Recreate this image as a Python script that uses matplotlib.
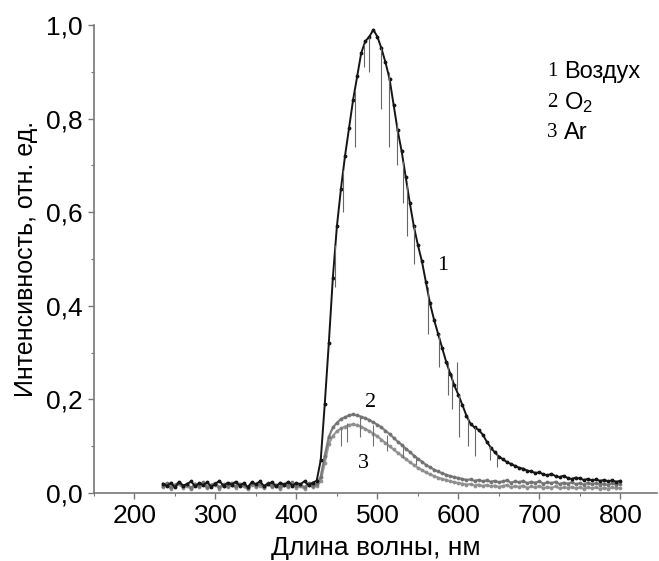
import numpy as np
import matplotlib
matplotlib.use("Agg")
from matplotlib import pyplot as plt
from matplotlib.ticker import MultipleLocator, FuncFormatter

plt.rcParams['font.family'] = ['Liberation Sans', 'DejaVu Sans']

# длины волн, шаг 5 нм
wl = np.arange(235, 801, 5)

# 1 - воздух
air = [0.020, 0.015, 0.022, 0.012, 0.024, 0.016, 0.019, 0.025, 0.014, 0.021,
       0.017, 0.023, 0.013, 0.020, 0.026, 0.015, 0.022, 0.018, 0.024, 0.016,
       0.021, 0.013, 0.023, 0.019, 0.025, 0.015, 0.020, 0.023, 0.014, 0.022,
       0.018, 0.024, 0.016, 0.021, 0.019, 0.025, 0.017, 0.022, 0.026,
       0.070, 0.190, 0.320, 0.460, 0.570, 0.650, 0.720, 0.780, 0.840, 0.890,
       0.940, 0.965, 0.975, 0.990, 0.975, 0.950, 0.920, 0.885, 0.830, 0.775,
       0.730, 0.675, 0.620, 0.570, 0.530, 0.495, 0.450, 0.405, 0.370, 0.340,
       0.310, 0.280, 0.255, 0.230, 0.210, 0.188, 0.165, 0.148, 0.140, 0.135,
       0.125, 0.110, 0.097, 0.087, 0.078, 0.072, 0.066, 0.062, 0.058, 0.054,
       0.052, 0.048, 0.046, 0.043, 0.044, 0.040, 0.038, 0.041, 0.036, 0.034,
       0.037, 0.032, 0.030, 0.033, 0.031, 0.028, 0.030, 0.027, 0.029, 0.026,
       0.028, 0.025, 0.027, 0.024, 0.026]

# 2 - O2
o2 = [0.016, 0.021, 0.012, 0.018, 0.022, 0.014, 0.019, 0.011, 0.020, 0.016,
      0.023, 0.013, 0.018, 0.021, 0.012, 0.019, 0.015, 0.022, 0.014, 0.020,
      0.017, 0.011, 0.021, 0.016, 0.019, 0.013, 0.022, 0.015, 0.018, 0.012,
      0.020, 0.016, 0.023, 0.014, 0.018, 0.012, 0.021, 0.016, 0.019,
      0.035, 0.080, 0.120, 0.140, 0.150, 0.158, 0.162, 0.166, 0.168, 0.166,
      0.163, 0.160, 0.156, 0.151, 0.146, 0.140, 0.133, 0.126, 0.118, 0.110,
      0.103, 0.095, 0.088, 0.080, 0.073, 0.067, 0.060, 0.055, 0.050, 0.046,
      0.042, 0.039, 0.036, 0.034, 0.032, 0.030, 0.028, 0.029, 0.026, 0.028,
      0.025, 0.027, 0.024, 0.026, 0.023, 0.025, 0.027, 0.022, 0.025, 0.023,
      0.026, 0.021, 0.024, 0.022, 0.025, 0.020, 0.023, 0.021, 0.024, 0.019,
      0.022, 0.020, 0.023, 0.019, 0.021, 0.018, 0.022, 0.019, 0.021, 0.018,
      0.020, 0.017, 0.021, 0.018, 0.020]

# 3 - Ar
ar = [0.012, 0.017, 0.009, 0.015, 0.019, 0.011, 0.016, 0.008, 0.017, 0.013,
      0.019, 0.010, 0.015, 0.018, 0.009, 0.016, 0.012, 0.018, 0.011, 0.017,
      0.014, 0.008, 0.018, 0.013, 0.016, 0.010, 0.019, 0.012, 0.015, 0.009,
      0.017, 0.013, 0.019, 0.011, 0.015, 0.009, 0.018, 0.013, 0.016,
      0.025, 0.065, 0.105, 0.122, 0.132, 0.138, 0.142, 0.145, 0.147, 0.145,
      0.142, 0.137, 0.132, 0.127, 0.121, 0.114, 0.107, 0.100, 0.093, 0.086,
      0.080, 0.073, 0.066, 0.060, 0.054, 0.049, 0.044, 0.040, 0.036, 0.033,
      0.030, 0.028, 0.025, 0.023, 0.021, 0.020, 0.018, 0.019, 0.016, 0.018,
      0.015, 0.017, 0.014, 0.016, 0.013, 0.015, 0.017, 0.012, 0.015, 0.013,
      0.016, 0.011, 0.014, 0.012, 0.015, 0.010, 0.013, 0.011, 0.014, 0.010,
      0.012, 0.011, 0.013, 0.010, 0.012, 0.009, 0.012, 0.010, 0.012, 0.009,
      0.011, 0.009, 0.012, 0.010, 0.011]

# выбросы (провалы) на кривой 1
air_spk_x = [448, 458, 472, 483, 490, 505, 514, 524, 532, 537, 545, 562, 576,
             587, 592, 598, 601, 612, 621, 639, 648]
air_spk_top = [0.53, 0.69, 0.86, 0.96, 0.975, 0.95, 0.90, 0.79, 0.71, 0.66, 0.57,
               0.44, 0.34, 0.28, 0.255, 0.22, 0.21, 0.16, 0.14, 0.10, 0.085]
air_spk_bot = [0.44, 0.60, 0.74, 0.91, 0.90, 0.82, 0.74, 0.70, 0.62, 0.55, 0.49,
               0.34, 0.27, 0.21, 0.18, 0.28, 0.12, 0.10, 0.08, 0.07, 0.056]

# провалы на кривых 2 и 3
gas_spk_x = [455, 462, 478, 495, 512, 532, 548]
gas_spk_top = [0.14, 0.15, 0.16, 0.145, 0.125, 0.10, 0.08]
gas_spk_bot = [0.10, 0.11, 0.12, 0.10, 0.09, 0.075, 0.06]

fig = plt.figure(figsize=(6.59, 5.61), dpi=100)
ax = fig.add_axes([0.1426, 0.1212, 0.854, 0.8342])

c1, c2, c3 = '#151515', '#727272', '#8e8e8e'
ax.plot(wl, ar, color=c3, lw=1.6, marker='.', ms=3.5, alpha=0.9)
ax.plot(wl, o2, color=c2, lw=1.6, marker='.', ms=3.5, alpha=0.9)
ax.vlines(gas_spk_x, gas_spk_bot, gas_spk_top, color=c2, lw=0.8)
ax.plot(wl, air, color=c1, lw=1.4, marker='.', ms=3.5)
ax.vlines(air_spk_x, air_spk_bot, air_spk_top, color='#666666', lw=0.8)

ax.set_xlim(150, 845)
ax.set_ylim(0, 1.0)
for s in ['top', 'right']:
    ax.spines[s].set_visible(False)
for s in ['left', 'bottom']:
    ax.spines[s].set_color('#777777')
    ax.spines[s].set_linewidth(1.2)

ax.xaxis.set_major_locator(MultipleLocator(100))
ax.xaxis.set_minor_locator(MultipleLocator(50))
ax.yaxis.set_major_locator(MultipleLocator(0.2))
ax.yaxis.set_minor_locator(MultipleLocator(0.1))
ax.yaxis.set_major_formatter(FuncFormatter(lambda v, p: f'{v:.1f}'.replace('.', ',')))
ax.tick_params(which='major', direction='out', length=4, width=1, color='#777777',
               labelsize=19, pad=4)
ax.tick_params(which='minor', direction='out', length=2.5, width=0.8, color='#777777')

ax.set_xlabel('Длина волны, нм', fontsize=19, labelpad=6)
ax.set_ylabel('Интенсивность, отн. ед.', fontsize=18, labelpad=6)

# подписи кривых
serif = ['Liberation Serif', 'DejaVu Serif']
ax.text(581, 0.487, '1', family=serif, fontsize=16, ha='center', va='center')
ax.text(492, 0.194, '2', family=serif, fontsize=16, ha='center', va='center')
ax.text(483, 0.064, '3', family=serif, fontsize=16, ha='center', va='center')

# легенда
leg_nums = ['1', '2', '3']
leg_names = ['Воздух', r'$\mathregular{O_2}$', 'Ar']
leg_y = [0.90, 0.835, 0.77]
for n, name, y in zip(leg_nums, leg_names, leg_y):
    ax.text(716, y, n, family=serif, fontsize=15, ha='center', va='center')
    ax.text(730, y, name, fontsize=17, ha='left', va='center')

fig.savefig('out.png', dpi=100)
